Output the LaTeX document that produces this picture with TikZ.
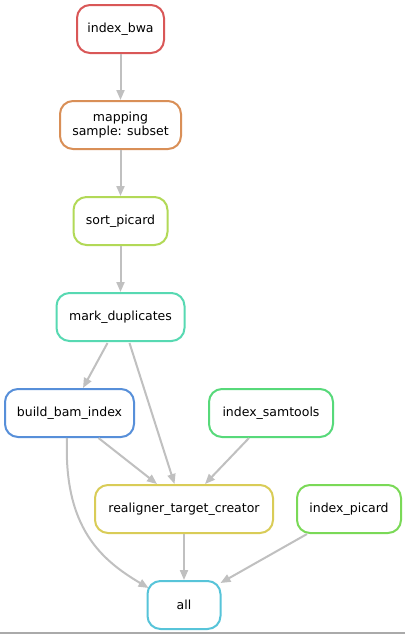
\documentclass[tikz,border=0pt]{standalone}
\usepackage{fontspec}
\setmainfont{DejaVu Sans}
\usetikzlibrary{arrows.meta,calc}
\definecolor{cbwa}{RGB}{217,87,87}
\definecolor{cmap}{RGB}{217,143,87}
\definecolor{csort}{RGB}{178,217,87}
\definecolor{cmark}{RGB}{87,217,178}
\definecolor{cbbi}{RGB}{87,143,217}
\definecolor{csam}{RGB}{87,217,122}
\definecolor{crtc}{RGB}{217,204,87}
\definecolor{cpic}{RGB}{122,217,87}
\definecolor{call}{RGB}{87,196,217}
\definecolor{cedge}{RGB}{192,192,192}
\begin{document}
\begin{tikzpicture}[x=1pt,y=-1pt,
  rule/.style={draw=#1,line width=2pt,rounded corners=13pt,fill=white,
    minimum height=48pt,inner sep=0pt,align=center,
    font=\fontsize{12.5}{14.5}\selectfont},
  edge/.style={draw=cedge,line width=2pt,-{Triangle[length=10pt,width=8pt]}}]
\useasboundingbox (0,0) rectangle (405,635);
\fill[white] (0,0) rectangle (405,635);
\draw[color={rgb,255:red,170;green,170;blue,170},line width=1.5pt] (0,633) -- (405,633);

\node[rule=cbwa,minimum width=87pt]  (ib)  at (120.5,29)  {index\_bwa};
\node[rule=cmap,minimum width=121pt] (map) at (120.5,125) {mapping\\sample: subset};
\node[rule=csort,minimum width=94pt] (sp)  at (120.5,221) {sort\_picard};
\node[rule=cmark,minimum width=128pt](md)  at (120.5,317) {mark\_duplicates};
\node[rule=cbbi,minimum width=129pt] (bbi) at (69.5,413) {build\_bam\_index};
\node[rule=csam,minimum width=124pt] (its) at (271,413) {index\_samtools};
\node[rule=crtc,minimum width=178pt] (rtc) at (184,509) {realigner\_target\_creator};
\node[rule=cpic,minimum width=104pt] (ip)  at (349,509) {index\_picard};
\node[rule=call,minimum width=73pt]  (all) at (184,605) {all};

\draw[edge] (ib.south) -- (map.north);
\draw[edge] (map.south) -- (sp.north);
\draw[edge] (sp.south) -- (md.north);
\draw[edge] ($(md.south)+(-13,1)$) -- ($(bbi.north)+(13.5,0)$);
\draw[edge] ($(md.south)+(9,1)$) -- ($(rtc.north)+(-9.5,0)$);
\draw[edge] ($(bbi.south)+(29,0)$) -- ($(rtc.north)+(-27,0)$);
\draw[edge] ($(its.south)+(-22,0)$) -- ($(rtc.north)+(21,0)$);
\draw[edge] ($(bbi.south)+(-2.5,0)$) .. controls ($(bbi.south)+(-6,90)$) and ($(all.north west)+(-45,-20)$) .. ($(all.north west)+(2,8)$);
\draw[edge] (rtc.south) -- (all.north);
\draw[edge] ($(ip.south)+(-42,0)$) -- ($(all.north east)+(-1,3)$);
\end{tikzpicture}
\end{document}
